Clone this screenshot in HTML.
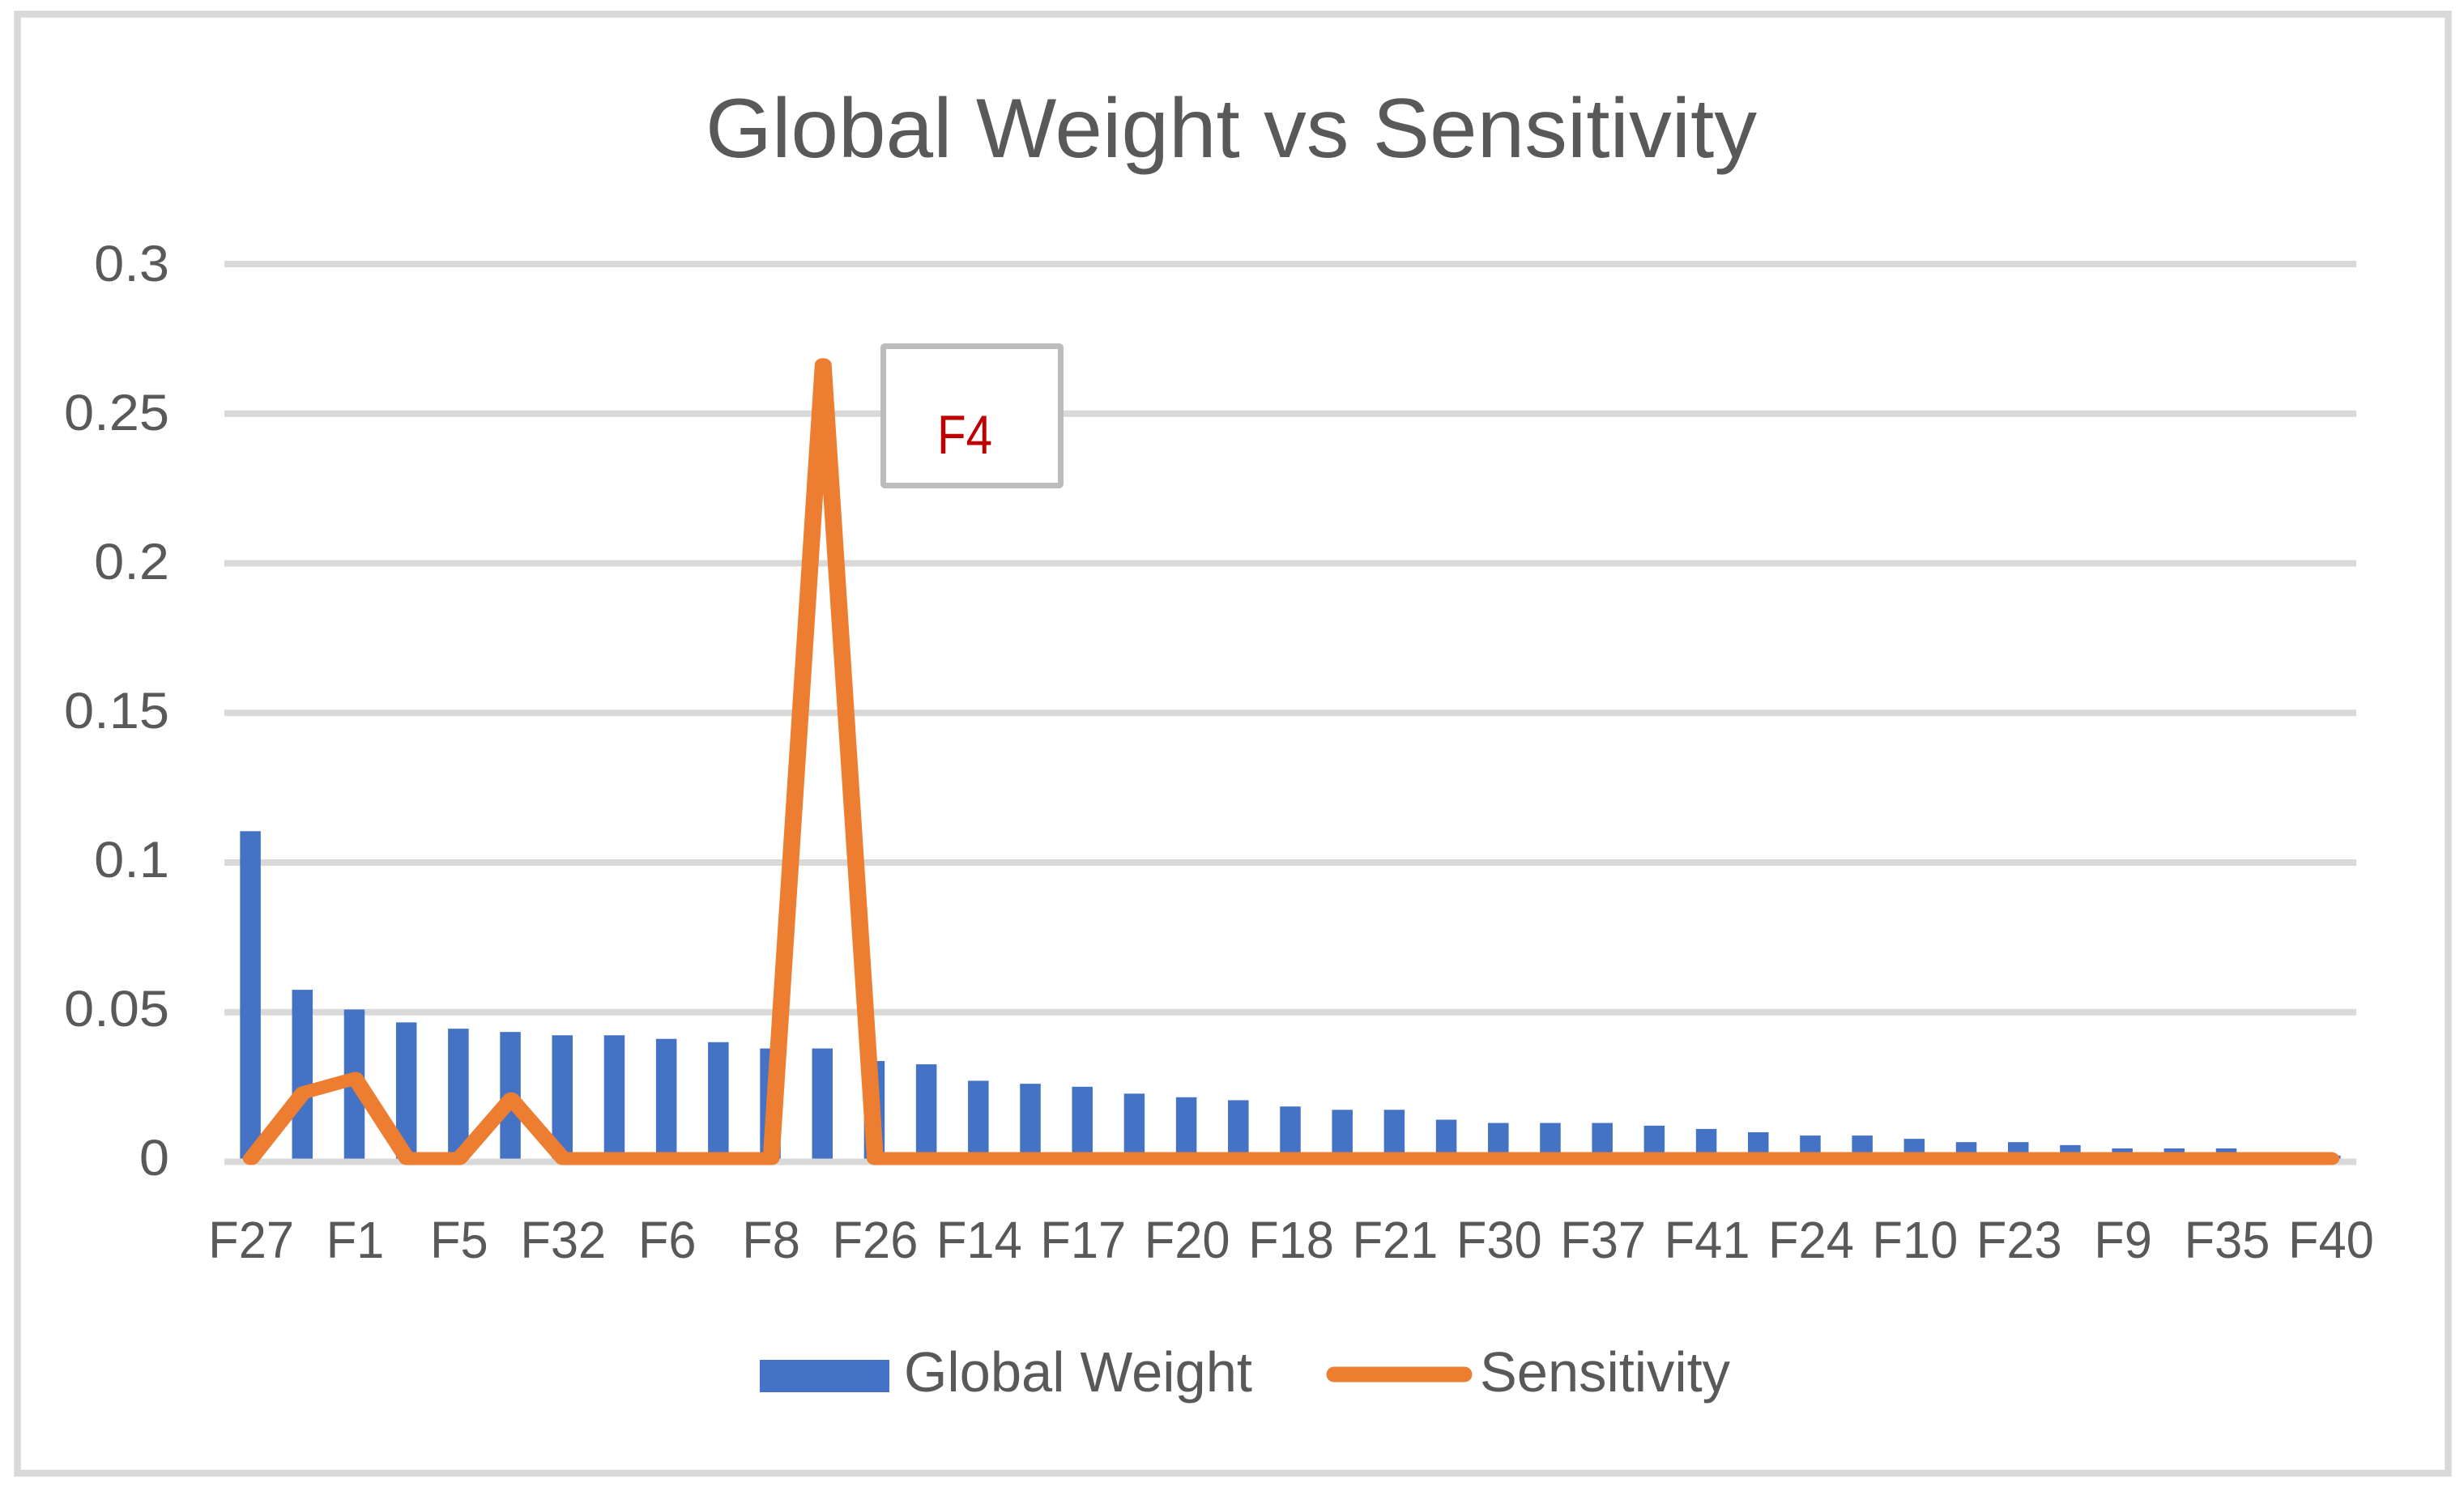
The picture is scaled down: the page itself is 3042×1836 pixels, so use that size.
<!DOCTYPE html>
<html lang="en">
<head>
<meta charset="utf-8">
<title>Global Weight vs Sensitivity</title>
<style>
  html, body { margin: 0; padding: 0; background: #ffffff; }
  svg { display: block; }
  text { font-family: "Liberation Sans", sans-serif; fill: #595959; }
</style>
</head>
<body>
<svg id="chart" xmlns="http://www.w3.org/2000/svg" width="3042" height="1836" viewBox="0 0 3042 1836">
  <rect x="0" y="0" width="3042" height="1836" fill="#ffffff"/>
  <rect x="21.5" y="17.5" width="3001" height="1801.5" fill="none" stroke="#d9d9d9" stroke-width="8.5"/>
  <text x="871" y="194" font-size="104" textLength="1298" lengthAdjust="spacingAndGlyphs">Global Weight vs Sensitivity</text>
  <g id="grid"></g>
  <g id="y-ticks"></g>
  <g id="x-ticks"></g>
  <g id="bars"></g>
  <polyline id="line" transform="scale(1.3,1)" fill="none" stroke="#ed7d31" stroke-width="16" stroke-linejoin="round" stroke-linecap="round"/>
  <g>
    <rect x="1090.5" y="427.5" width="219" height="172" rx="2" fill="#ffffff" stroke="#bcbcbc" stroke-width="7"/>
    <text x="1157" y="560" font-size="68" textLength="68" lengthAdjust="spacingAndGlyphs" style="fill:#c00000">F4</text>
  </g>
  <g>
    <g>
      <rect x="938" y="1679" width="160" height="40" fill="#4472c4"/>
      <text x="1116" y="1718" font-size="70" textLength="430" lengthAdjust="spacingAndGlyphs">Global Weight</text>
    </g>
    <g>
      <line x1="1647" y1="1697" x2="1808" y2="1697" stroke="#ed7d31" stroke-width="19" stroke-linecap="round"/>
      <text x="1827" y="1718" font-size="70" textLength="309" lengthAdjust="spacingAndGlyphs">Sensitivity</text>
    </g>
  </g>
</svg>
<script>
const categories = ["F27","F3","F1","F34","F5","F7","F32","F33","F6","F31","F8","F4","F26","F13","F14","F16","F17","F19","F20","F22","F18","F25","F21","F28","F30","F36","F37","F39","F41","F12","F24","F11","F10","F15","F23","F29","F9","F38","F35","F2","F40"];
const labelledCategories = ["F27","F1","F5","F32","F6","F8","F26","F14","F17","F20","F18","F21","F30","F37","F41","F24","F10","F23","F9","F35","F40"];
const globalWeight = [0.1094,0.0564,0.0498,0.0455,0.0434,0.0423,0.0412,0.0412,0.04,0.0389,0.0368,0.0368,0.0326,0.0315,0.026,0.025,0.024,0.0217,0.0205,0.0195,0.0174,0.0163,0.0163,0.013,0.0119,0.0119,0.0119,0.011,0.0099,0.0088,0.0077,0.0077,0.0066,0.0055,0.0055,0.0045,0.0034,0.0034,0.0034,0.002,0.001];
const sensitivity = [0,0.022,0.0268,0,0,0.02,0,0,0,0,0,0.2653,0,0,0,0,0,0,0,0,0,0,0,0,0,0,0,0,0,0,0,0,0,0,0,0,0,0,0,0,0];
const yTicks = [0,0.05,0.1,0.15,0.2,0.25,0.3];
const yTickLabels = ["0","0.05","0.1","0.15","0.2","0.25","0.3"];

const SVG_NS = "http://www.w3.org/2000/svg";
const plotLeft = 277, plotRight = 2909, gridZero = 1434.5, seriesZero = 1430.5, pxPerUnit = 3695;
const band = (plotRight - plotLeft) / categories.length;
const barWidth = 25.5;
const linePenStretch = 1.3;
function xScale(i) { return plotLeft + band * (i + 0.5); }
function gridY(v) { return gridZero - v * pxPerUnit; }
function seriesY(v) { return seriesZero - v * pxPerUnit; }
function tickBaseline(v) { return 1451 - v * 3680; }
function make(tag) { return document.createElementNS(SVG_NS, tag); }

const gridGroup = document.getElementById("grid");
const yGroup = document.getElementById("y-ticks");
yTicks.forEach(function (t, i) {
  const ln = make("line");
  
  
  ln.setAttribute("x1", plotLeft);
  ln.setAttribute("x2", plotRight);
  ln.setAttribute("y1", gridY(t));
  ln.setAttribute("y2", gridY(t));
  ln.setAttribute("stroke", "#d9d9d9");
  ln.setAttribute("stroke-width", 8);
  gridGroup.appendChild(ln);
  const lab = make("text");
  
  
  lab.setAttribute("font-size", 63);
  lab.setAttribute("text-anchor", "end");
  lab.setAttribute("transform", "translate(209,".concat(tickBaseline(t), ") scale(1.06,1)"));
  lab.textContent = yTickLabels[i];
  yGroup.appendChild(lab);
});

const xGroup = document.getElementById("x-ticks");
labelledCategories.forEach(function (name) {
  const i = categories.indexOf(name);
  const lab = make("text");
  
  
  lab.setAttribute("font-size", 64);
  lab.setAttribute("text-anchor", "middle");
  lab.setAttribute("transform", "translate(".concat(xScale(i) + 1, ",1553) scale(0.96,1)"));
  lab.textContent = name;
  xGroup.appendChild(lab);
});

const barGroup = document.getElementById("bars");
globalWeight.forEach(function (v, i) {
  const r = make("rect");
  
  
  r.setAttribute("x", xScale(i) - barWidth / 2);
  r.setAttribute("y", seriesY(v));
  r.setAttribute("width", barWidth);
  r.setAttribute("height", seriesZero - seriesY(v));
  r.setAttribute("fill", "#4472c4");
  barGroup.appendChild(r);
});

document.getElementById("line").setAttribute("points", sensitivity.map(function (v, i) {
  return ((xScale(i) + 1) / linePenStretch) + "," + seriesY(v);
}).join(" "));
</script>
</body>
</html>
